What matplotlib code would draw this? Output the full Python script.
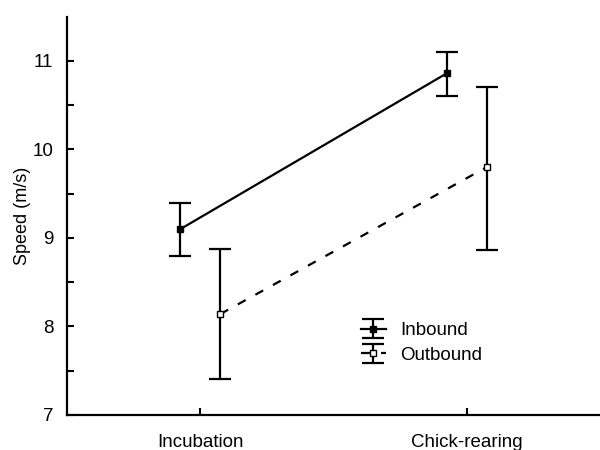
import matplotlib
matplotlib.use('Agg')
from matplotlib import pyplot as plt
import numpy as np

plt.rcParams['font.family'] = ['Liberation Sans', 'DejaVu Sans']

stages = ['Incubation', 'Chick-rearing']
inbound = [9.10, 10.86]
inbound_lo = [8.79, 10.60]
inbound_hi = [9.40, 11.10]
outbound = [8.14, 9.80]
outbound_lo = [7.41, 8.86]
outbound_hi = [8.88, 10.71]

fig = plt.figure(figsize=(6, 4.5), dpi=100)
ax = fig.add_axes([0.112, 0.078, 0.888, 0.885])

x = np.arange(len(stages))
off = 0.075

inb = np.array(inbound)
outb = np.array(outbound)
ax.errorbar(x - off, inb, yerr=[inb - inbound_lo, np.array(inbound_hi) - inb],
            color='black', lw=1.6, elinewidth=1.6, capsize=8, capthick=1.6,
            marker='s', ms=5, mfc='black', mec='black', ls='-', label='Inbound')
ax.errorbar(x + off, outb, yerr=[outb - outbound_lo, np.array(outbound_hi) - outb],
            color='black', lw=1.6, elinewidth=1.6, capsize=8, capthick=1.6,
            marker='s', ms=5, mfc='white', mec='black', ls=(0, (4, 5)),
            label='Outbound')

ax.set_xlim(-0.5, 1.5)
ax.set_ylim(7, 11.5)
ax.set_xticks(x)
ax.set_xticklabels(stages, fontsize=13.5)
ax.set_yticks([7, 8, 9, 10, 11])
ax.set_yticks([7.5, 8.5, 9.5, 10.5], minor=True)
ax.tick_params(axis='both', direction='in', length=5, width=1.5, labelsize=13.5)
ax.tick_params(axis='x', pad=14)
ax.tick_params(axis='y', pad=10)
ax.tick_params(axis='y', which='minor', direction='in', length=5, width=1.5)
ax.set_ylabel('Speed (m/s)', fontsize=13, labelpad=1)
for s in ['top', 'right']:
    ax.spines[s].set_visible(False)
for s in ['left', 'bottom']:
    ax.spines[s].set_linewidth(1.6)

ax.legend(loc='upper left', bbox_to_anchor=(0.52, 0.275), frameon=False,
          fontsize=13.5, handlelength=1.3, handletextpad=0.8, labelspacing=0.4)

fig.savefig('out.png', dpi=100)
